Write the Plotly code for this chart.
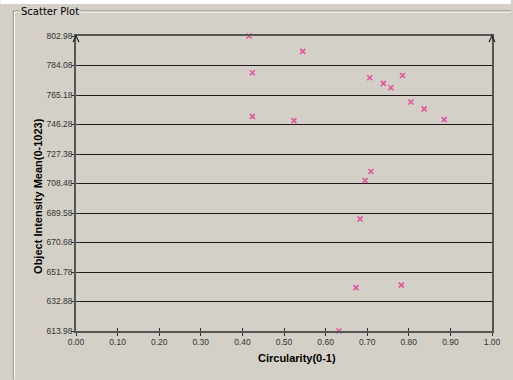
import plotly.graph_objects as go

circularity = [0.416, 0.545, 0.424, 0.706, 0.739, 0.757, 0.785, 0.805, 0.837,
               0.424, 0.524, 0.885, 0.709, 0.695, 0.683, 0.673, 0.782, 0.632]
intensity = [802.98, 793.1, 779.4, 776.2, 772.6, 769.8, 777.7, 760.7, 756.3,
             751.5, 748.8, 749.4, 716.2, 710.4, 685.8, 641.8, 643.4, 613.98]

y_ticks = [613.98 + 18.9 * k for k in range(11)]
y_ticktext = ["%.2f" % v for v in y_ticks]
x_ticks = [k / 10 for k in range(11)]
x_ticktext = ["%.2f" % v for v in x_ticks]

W, H = 513, 380
L, R, T, B = 76, 494, 36, 331.5


def px(x):
    return (x - L) / (R - L)


def py(y):
    return (B - y) / (B - T)


BG = "#D4D0C8"
TICKFONT = dict(family="Liberation Sans", size=8.5, color="#333333")

fig = go.Figure()
fig.add_trace(go.Scatter(
    x=circularity, y=intensity, mode="markers",
    marker=dict(symbol="x-thin", size=5, color="#E0559A",
                line=dict(color="#E0559A", width=1.6)),
    cliponaxis=False, showlegend=False, hoverinfo="x+y"))
# invisible trace on overlay axes so inside ticks are drawn
fig.add_trace(go.Scatter(x=[0], y=[613.98], xaxis="x2", yaxis="y2", mode="markers",
                         marker=dict(opacity=0), showlegend=False, hoverinfo="skip"))

shapes = []
shapes.append(dict(type="rect", xref="paper", yref="paper", x0=px(0), x1=px(W),
                   y0=py(0), y1=py(4), fillcolor="white", line=dict(width=0), layer="below"))
for off, col in [(0, "#808080"), (1, "#FFFFFF")]:
    shapes.append(dict(type="line", xref="paper", yref="paper",
                       x0=px(13 + off), x1=px(13 + off), y0=py(11 + off), y1=py(H),
                       line=dict(color=col, width=1)))
    shapes.append(dict(type="line", xref="paper", yref="paper",
                       x0=px(13 + off), x1=px(W), y0=py(11 + off), y1=py(11 + off),
                       line=dict(color=col, width=1)))
for ax in (L, R):
    shapes.append(dict(type="path", xref="paper", yref="paper",
                       path="M %f,%f L %f,%f L %f,%f" % (px(ax - 3), py(T + 6), px(ax), py(T),
                                                       px(ax + 3), py(T + 6)),
                       line=dict(color="#222222", width=1.2)))

annotations = [
    dict(text="Scatter Plot", xref="paper", yref="paper", x=px(19), y=py(11),
         xanchor="left", yanchor="middle", showarrow=False, bgcolor=BG,
         font=dict(family="DejaVu Sans", size=10, color="#000000"), borderpad=1),
    dict(text="<b>Circularity(0-1)</b>", xref="paper", yref="paper", x=px(298), y=py(359),
         xanchor="center", yanchor="middle", showarrow=False,
         font=dict(family="Liberation Sans", size=11, color="#000000")),
    dict(text="<b>Object Intensity Mean(0-1023)</b>", xref="paper", yref="paper",
         x=px(38), y=py(196), xanchor="center", yanchor="middle", showarrow=False,
         textangle=-90, font=dict(family="Liberation Sans", size=11, color="#000000")),
]

fig.update_layout(
    width=W, height=H,
    margin=dict(l=L, r=W - R, t=T, b=H - B, pad=0),
    paper_bgcolor=BG, plot_bgcolor=BG,
    shapes=shapes, annotations=annotations,
    xaxis=dict(range=[0, 1], tickvals=x_ticks, ticktext=x_ticktext,
               showgrid=False, zeroline=False, showline=True, mirror=True,
               linecolor="#555555", linewidth=1.5, ticks="outside", ticklen=3,
               tickcolor="#333333", tickfont=TICKFONT, ticklabelstandoff=-1),
    yaxis=dict(range=[613.98, 802.98], tickvals=y_ticks, ticktext=y_ticktext,
               showgrid=True, gridcolor="#1A1A1A", gridwidth=1, zeroline=False,
               showline=True, mirror=True, linecolor="#555555", linewidth=1.5,
               ticks="outside", ticklen=3, tickcolor="#333333",
               tickfont=TICKFONT, ticklabelstandoff=-3),
    xaxis2=dict(range=[0, 1], tickvals=x_ticks, showticklabels=False, overlaying="x",
                showgrid=False, zeroline=False, ticks="inside", ticklen=3,
                tickcolor="#333333", showline=False),
    yaxis2=dict(range=[613.98, 802.98], tickvals=y_ticks, showticklabels=False,
                overlaying="y", showgrid=False, zeroline=False, ticks="inside",
                ticklen=3, tickcolor="#333333", showline=False),
)

fig.write_html("out.html")
